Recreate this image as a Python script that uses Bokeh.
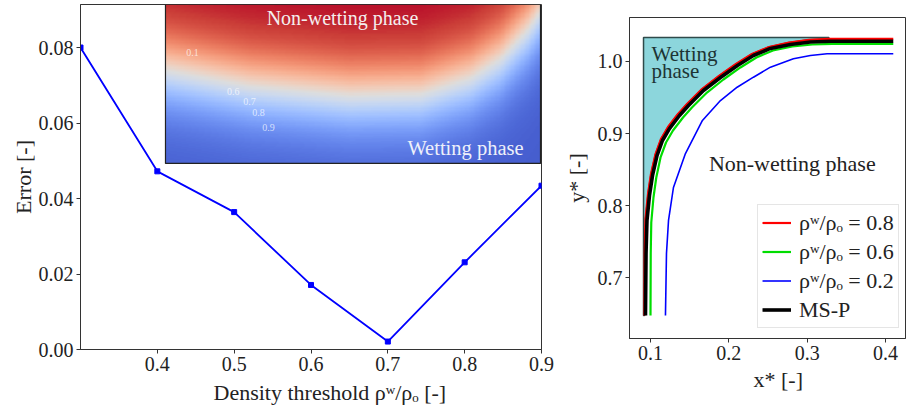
import numpy as np
from bokeh.plotting import figure
from bokeh.layouts import row, column
from bokeh.models import (FixedTicker, Label, Legend, LegendItem, LinearColorMapper,
                          ColumnDataSource, Range1d, NumeralTickFormatter, Title)
from bokeh.core.properties import value
from bokeh.embed import file_html
from bokeh.resources import INLINE

# ---------------- left panel data ----------------
threshold = [0.3, 0.4, 0.5, 0.6, 0.7, 0.8, 0.9]
error = [0.0800, 0.0472, 0.0364, 0.0171, 0.0021, 0.0231, 0.0434]
left_xticks = [0.4, 0.5, 0.6, 0.7, 0.8, 0.9]
left_yticks = [0.00, 0.02, 0.04, 0.06, 0.08]

# inset picture: interface depth (fraction of inset height from top) across inset width
inset_ifc_x = [0.0, 0.227, 0.493, 0.68, 0.813, 0.893, 0.965, 1.0]
inset_ifc_y = [0.42, 0.52, 0.58, 0.57, 0.47, 0.35, 0.17, 0.05]
contour_labels = ["0.1", "0.6", "0.7", "0.8", "0.9"]
contour_fx = [0.072, 0.181, 0.224, 0.248, 0.275]
contour_fy = [0.30, 0.547, 0.61, 0.68, 0.774]

# ---------------- right panel data ----------------
red_x = [0.0923, 0.0926, 0.0936, 0.0968, 0.1006, 0.1064, 0.1134, 0.1223, 0.1351, 0.1466,
         0.1657, 0.1874, 0.2091, 0.2295, 0.2511, 0.2767, 0.3022, 0.3277, 0.4099]
red_y = [0.6472, 0.7333, 0.7813, 0.816, 0.8438, 0.8715, 0.8924, 0.909, 0.9271, 0.941,
         0.9618, 0.9799, 0.9965, 1.0104, 1.0201, 1.0264, 1.0301, 1.0313, 1.0315]
green_x = [0.1, 0.1003, 0.101, 0.1038, 0.1074, 0.1128, 0.1198, 0.1287, 0.1415, 0.1529,
           0.1721, 0.1931, 0.2148, 0.2352, 0.2563, 0.2811, 0.3066, 0.3321, 0.4099]
green_y = [0.6472, 0.7333, 0.7764, 0.8111, 0.8389, 0.8667, 0.8875, 0.9042, 0.9222, 0.9361,
           0.9569, 0.975, 0.9917, 1.0056, 1.0153, 1.0208, 1.0236, 1.0245, 1.0245]
blue_x = [0.1191, 0.1204, 0.123, 0.1293, 0.1446, 0.1663, 0.1893, 0.2106, 0.2314, 0.2531,
          0.2824, 0.3041, 0.3254, 0.4099]
blue_y = [0.6472, 0.7333, 0.7792, 0.825, 0.8722, 0.9181, 0.9458, 0.9643, 0.9782, 0.9921,
          1.0037, 1.0083, 1.0107, 1.0107]
black_x = [0.0936, 0.0943, 0.0955, 0.0987, 0.1026, 0.1083, 0.1153, 0.1242, 0.137, 0.1485,
           0.1676, 0.1893, 0.211, 0.2314, 0.2531, 0.2786, 0.3041, 0.3296, 0.4099]
black_y = [0.6472, 0.7333, 0.7792, 0.8139, 0.8417, 0.8694, 0.8903, 0.9069, 0.925, 0.9389,
           0.9597, 0.9778, 0.9944, 1.0083, 1.0181, 1.0236, 1.0271, 1.0282, 1.0282]
wet_corner_x = [0.0911, 0.0911, 0.3277]
wet_corner_y = [0.6472, 1.0333, 1.0333]
right_xticks = [0.1, 0.2, 0.3, 0.4]
right_yticks = [0.7, 0.8, 0.9, 1.0]
legend_labels = ["ρʷ/ρₒ = 0.8", "ρʷ/ρₒ = 0.6", "ρʷ/ρₒ = 0.2", "MS-P"]

FONT = "Liberation Serif"
INK = "#222222"


def style(p):
    p.xgrid.visible = False
    p.ygrid.visible = False
    p.outline_line_color = "#333333"
    p.outline_line_width = 1
    p.background_fill_color = "white"
    p.border_fill_color = "white"
    for ax in (p.xaxis[0], p.yaxis[0]):
        ax.axis_line_color = "#333333"
        ax.major_tick_line_color = "#333333"
        ax.minor_tick_line_color = None
        ax.major_tick_out = 4
        ax.major_tick_in = 0
        ax.major_label_text_font = FONT
        ax.major_label_text_font_size = "20px"
        ax.major_label_text_color = INK
        ax.major_label_standoff = 3
        ax.axis_label_text_font = FONT
        ax.axis_label_text_font_size = "22px"
        ax.axis_label_text_font_style = "normal"
        ax.axis_label_text_color = INK


def bottom_title(p, text, offset, standoff):
    p.add_layout(Title(text=text, align="left", offset=offset, standoff=standoff,
                       text_font=FONT, text_font_size="22px", text_font_style="normal",
                       text_color=INK), "below")


# ---------------- left figure ----------------
left = figure(width=554, height=414, x_range=Range1d(0.3, 0.9), y_range=Range1d(0.0, 0.0914),
              output_backend="svg", toolbar_location=None,
              min_border_left=80, min_border_right=13, min_border_top=4, min_border_bottom=65)
style(left)
left.xaxis.ticker = FixedTicker(ticks=left_xticks)
left.yaxis.ticker = FixedTicker(ticks=left_yticks)
left.xaxis.formatter = NumeralTickFormatter(format="0.0")
left.yaxis.formatter = NumeralTickFormatter(format="0.00")
left.yaxis.axis_label = "Error [-]"
left.yaxis.axis_label_standoff = 0
bottom_title(left, "Density threshold  ρʷ/ρₒ [-]", 133, 8)

# inset (picture of the density field)
ix0, ix1, iy0, iy1 = 0.4106, 0.8987, 0.0493, 0.0914
nx, ny = 300, 128
fx = (np.arange(nx) + 0.5) / nx
depth = 1.0 - (np.arange(ny) + 0.5) / ny
ifc = np.interp(fx, inset_ifc_x, inset_ifc_y)
field = np.tanh((ifc[None, :] - depth[:, None]) / 0.28)
field = np.where(field < 0, 0.92 * field, field)

cw_pos = [0.0, 0.0625, 0.125, 0.1875, 0.25, 0.3125, 0.375, 0.4375, 0.5,
          0.5625, 0.625, 0.6875, 0.75, 0.8125, 0.875, 0.9375, 1.0]
cw_rgb = [(59, 76, 192), (77, 104, 215), (98, 130, 234), (119, 154, 247), (141, 176, 254),
          (163, 194, 255), (184, 208, 249), (204, 217, 238), (221, 221, 221),
          (236, 211, 197), (245, 196, 173), (247, 177, 148), (244, 154, 123),
          (236, 127, 99), (222, 96, 77), (203, 62, 56), (180, 4, 38)]
t = np.linspace(0, 1, 256)
cw = np.array(cw_rgb, dtype=float)
palette = ["#%02x%02x%02x" % tuple(int(round(np.interp(v, cw_pos, cw[:, k]))) for k in range(3))
           for v in t]
mapper = LinearColorMapper(palette=palette, low=-1.0, high=1.0)
left.image(image=[field], x=ix0, y=iy0, dw=ix1 - ix0, dh=iy1 - iy0, color_mapper=mapper)
left.quad(left=[ix0], right=[ix1], bottom=[iy0], top=[iy1], fill_color=None,
          line_color="#222222", line_width=1.2)

csrc = ColumnDataSource(dict(
    x=[ix0 + f * (ix1 - ix0) for f in contour_fx],
    y=[iy1 - f * (iy1 - iy0) for f in contour_fy],
    t=contour_labels))
left.text(x="x", y="y", text="t", source=csrc, text_color="white", text_alpha=0.7,
          text_font=value(FONT), text_font_size="10px", text_align="center",
          text_baseline="middle")
left.add_layout(Label(x=ix0 + 0.472 * (ix1 - ix0), y=iy1 - 0.088 * (iy1 - iy0),
                      text="Non-wetting phase", text_color="#f4eeee", text_font=FONT,
                      text_font_size="20px", text_align="center", text_baseline="middle"))
left.add_layout(Label(x=ix0 + 0.80 * (ix1 - ix0), y=iy1 - 0.90 * (iy1 - iy0),
                      text="Wetting phase", text_color="#eef0fa", text_font=FONT,
                      text_font_size="20.5px", text_align="center", text_baseline="middle"))

left.line(threshold, error, line_color="#0000ff", line_width=1.8)
left.scatter(threshold, error, marker="square", size=5, fill_color="#0000ff",
             line_color="#0000ff")

# ---------------- right figure ----------------
right = figure(width=353, height=414, x_range=Range1d(0.0732, 0.4255),
               y_range=Range1d(0.6153, 1.0611),
               output_backend="svg", toolbar_location=None,
               min_border_left=75, min_border_right=2, min_border_top=17, min_border_bottom=76)
style(right)
right.xaxis.ticker = FixedTicker(ticks=right_xticks)
right.yaxis.ticker = FixedTicker(ticks=right_yticks)
right.xaxis.formatter = NumeralTickFormatter(format="0.0")
right.yaxis.formatter = NumeralTickFormatter(format="0.0")
right.yaxis.axis_label = "y* [-]"
right.yaxis.axis_label_standoff = 6
bottom_title(right, "x* [-]", 124, 4)

wet_x = wet_corner_x + red_x[::-1][1:]
wet_y = wet_corner_y + red_y[::-1][1:]
right.patch(wet_x, wet_y, fill_color="#8cd6dc", fill_alpha=1.0, line_color="#2f4a4a",
            line_width=1.5)

r_red = right.line(red_x, red_y, line_color="#ff0000", line_width=2.2)
r_green = right.line(green_x, green_y, line_color="#00dd00", line_width=2.2)
r_blue = right.line(blue_x, blue_y, line_color="#0000ff", line_width=1.6)
r_black = right.line(black_x, black_y, line_color="#000000", line_width=3.6)

right.add_layout(Label(x=0.1013, y=1.011, text="Wetting", text_color="#1d3434",
                       text_font=FONT, text_font_size="21px", text_baseline="alphabetic"))
right.add_layout(Label(x=0.1013, y=0.987, text="phase", text_color="#1d3434",
                       text_font=FONT, text_font_size="21px", text_baseline="alphabetic"))
right.add_layout(Label(x=0.281, y=0.858, text="Non-wetting phase", text_color=INK,
                       text_font=FONT, text_font_size="22px", text_align="center",
                       text_baseline="middle"))

legend = Legend(items=[LegendItem(label=legend_labels[0], renderers=[r_red]),
                       LegendItem(label=legend_labels[1], renderers=[r_green]),
                       LegendItem(label=legend_labels[2], renderers=[r_blue]),
                       LegendItem(label=legend_labels[3], renderers=[r_black])],
                location=(128, 10), orientation="vertical")
legend.label_text_font = FONT
legend.label_text_font_size = "22px"
legend.label_text_color = INK
legend.glyph_width = 29
legend.glyph_height = 27
legend.label_height = 27
legend.spacing = 2
legend.padding = 4
legend.margin = 0
legend.label_standoff = 8
legend.border_line_color = "#cccccc"
legend.background_fill_alpha = 0.85
right.add_layout(legend, "center")

page = row(column(left, spacing=0), column(right, spacing=0), spacing=0)
open("out.html", "w").write(file_html(page, INLINE))
